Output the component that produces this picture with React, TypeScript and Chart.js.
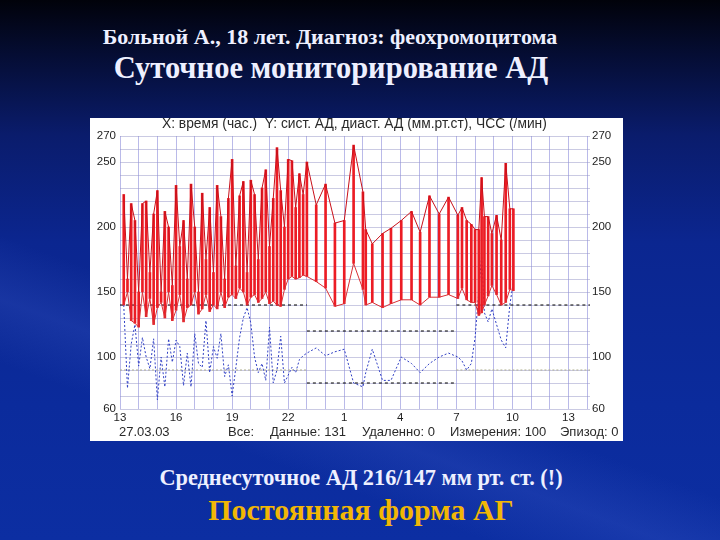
import React, { useEffect, useRef } from "react";
import { Chart, registerables } from "chart.js";

Chart.register(...registerables);

// Measurement times in hours from 13:00 of day 1 (values > 24 belong to the next day)
const measureTimes = [
  13.2, 13.4, 13.6, 13.8, 14.0, 14.2, 14.4, 14.6, 14.8, 15.0,
  15.2, 15.4, 15.6, 15.8, 16.0, 16.2, 16.4, 16.6, 16.8, 17.0,
  17.2, 17.4, 17.6, 17.8, 18.0, 18.2, 18.4, 18.6, 18.8, 19.0,
  19.2, 19.4, 19.6, 19.8, 20.0, 20.2, 20.4, 20.6, 20.8, 21.0,
  21.2, 21.4, 21.6, 21.8, 22.0, 22.2, 22.4, 22.6, 22.8, 23.0,
  23.5, 24.0, 24.5, 25.0, 25.5, 26.0, 26.15, 26.5, 27.05, 27.5,
  28.05, 28.6, 29.06, 29.56, 30.08, 30.58, 31.08,
  31.3, 31.55, 31.8, 32.0, 32.2, 32.35, 32.5, 32.7, 32.9, 33.15,
  33.4, 33.64, 33.86, 34.05,
];

const systolic = [
  225, 160, 218, 205, 150, 218, 220, 165, 210, 228,
  150, 212, 200, 155, 232, 185, 205, 160, 233, 200,
  150, 226, 175, 215, 165, 232, 208, 160, 222, 252,
  170, 224, 235, 165, 236, 225, 175, 230, 244, 185,
  222, 261, 228, 200, 252, 251, 215, 241, 225, 250,
  217, 233, 203, 205, 263, 227, 198, 187, 195, 199,
  205, 212, 196, 224, 210, 223, 209,
  215, 205, 202, 198, 198, 238, 208, 208, 195, 209,
  190, 249, 214, 214,
];

const diastolic = [
  140, 150, 128, 126, 123, 150, 131, 145, 125, 138,
  142, 130, 150, 128, 136, 148, 127, 138, 140, 150,
  133, 137, 148, 135, 140, 137, 150, 138, 146, 148,
  145, 153, 150, 140, 146, 148, 142, 145, 150, 141,
  143, 140, 139, 152, 160, 162, 160, 161, 163, 162,
  158, 153, 139, 141, 172, 152, 140, 142, 138, 141,
  144, 144, 140, 146, 146, 148, 145,
  153, 144, 142, 142, 132, 134, 140, 147, 155, 148,
  140, 142, 152, 151,
];

const heartRate = [
  140, 76, 110, 125, 93, 115, 100, 91, 114, 67,
  100, 77, 114, 96, 113, 108, 78, 103, 77, 118,
  95, 92, 128, 88, 108, 99, 118, 85, 94, 70,
  92, 115, 130, 138, 126, 100, 88, 95, 82, 123,
  80, 90, 116, 80, 86, 92, 88, 98, 101, 103,
  107, 101, 104, 106, 80, 77, 88, 106, 82, 82,
  100, 95, 88, 95, 100, 103, 100,
  97, 90, 95, 115, 150, 178, 134, 127, 137, 125,
  113, 107, 140, 158,
];

// Axes
const xMin = 13;
const xMax = 38.15;
const xGridHours = [13, 14, 15, 16, 17, 18, 19, 20, 21, 22, 23, 24, 25, 26, 27, 28, 29, 30, 31, 32, 33, 34, 35, 36, 37, 38];
const xLabelHours = [13, 16, 19, 22, 25, 28, 31, 34, 37];
const yMin = 60;
const yMax = 270;
const yGridValues = [60, 70, 80, 90, 100, 110, 120, 130, 140, 150, 160, 170, 180, 190, 200, 210, 220, 230, 240, 250, 260, 270];
const yLabelValues = [60, 100, 150, 200, 250, 270];

// Day / night threshold levels
const nightStart = 23;
const nightEnd = 31;
const sysDayLimit = 140;
const sysNightLimit = 120;
const diaDayLimit = 90;
const diaNightLimit = 80;

const chartCaption = "X: время (час.)  Y: сист. АД, диаст. АД (мм.рт.ст), ЧСС (/мин)";
const footerItems = [
  { text: "27.03.03", left: 29 },
  { text: "Все:", left: 138 },
  { text: "Данные: 131", left: 180 },
  { text: "Удаленно: 0", left: 272 },
  { text: "Измерения: 100", left: 360 },
  { text: "Эпизод: 0", left: 470 },
];

const tickFont = { family: "'Liberation Sans', Arial, sans-serif", size: 11.5 };

export default function App() {
  const canvasRef = useRef<HTMLCanvasElement>(null);

  useEffect(() => {
    const canvas = canvasRef.current;
    if (!canvas) return;
    const pts = (vals: number[]) => measureTimes.map((t, i) => ({ x: t, y: vals[i] }));
    const seg = (a: number, b: number, v: number) => [
      { x: a, y: v },
      { x: b, y: v },
    ];
    const thresh = (data: any, color: string, dash: number[]) => ({
      type: "line" as const,
      data,
      borderColor: color,
      borderWidth: 1,
      borderDash: dash,
      pointRadius: 0,
      order: 10,
    });

    const chart = new Chart(canvas, {
      type: "line",
      data: {
        datasets: [
          {
            type: "line",
            label: "сист. АД",
            data: pts(systolic),
            borderColor: "#c8101a",
            borderWidth: 1,
            pointRadius: 0,
            tension: 0,
            order: 1,
          },
          {
            type: "line",
            label: "диаст. АД",
            data: pts(diastolic),
            borderColor: "#d83036",
            borderWidth: 1,
            pointRadius: 0,
            tension: 0,
            order: 2,
          },
          {
            type: "bar",
            label: "АД",
            data: measureTimes.map((t, i) => ({ x: t, y: [diastolic[i], systolic[i]] })) as any,
            backgroundColor: "#ec1c24",
            barThickness: 2,
            grouped: false,
            order: 3,
          } as any,
          {
            type: "line",
            label: "ЧСС",
            data: pts(heartRate),
            borderColor: "#2f3fc4",
            borderWidth: 1,
            borderDash: [2, 2],
            pointRadius: 0,
            tension: 0,
            order: 4,
          },
          thresh(seg(xMin, nightStart, sysDayLimit), "#000000", [3, 3]),
          thresh(seg(nightStart, nightEnd, sysNightLimit), "#000000", [3, 3]),
          thresh(seg(nightEnd, xMax, sysDayLimit), "#000000", [3, 3]),
          thresh(seg(xMin, nightStart, diaDayLimit), "#b0b090", [2, 2]),
          thresh(seg(nightStart, nightEnd, diaNightLimit), "#000000", [3, 3]),
          thresh(seg(nightEnd, xMax, diaDayLimit), "#b0b090", [2, 2]),
        ] as any,
      },
      options: {
        animation: false,
        responsive: false,
        maintainAspectRatio: false,
        layout: { padding: { top: 18, left: 0, right: 0, bottom: 0 } },
        plugins: { legend: { display: false }, tooltip: { enabled: false }, title: { display: false } },
        scales: {
          x: {
            type: "linear",
            min: xMin,
            max: xMax,
            offset: false,
            afterBuildTicks: (s: any) => {
              s.ticks = xGridHours.map((v) => ({ value: v }));
            },
            afterFit: (s: any) => {
              s.height = 32;
            },
            ticks: {
              autoSkip: false,
              maxRotation: 0,
              padding: 2,
              color: "#1e1e1e",
              font: tickFont,
              callback: (v: any) => (xLabelHours.includes(Number(v)) ? String(Number(v) % 24) : ""),
            },
            grid: { color: "rgba(130,130,215,0.55)", lineWidth: 1, drawTicks: false, offset: false },
            border: { display: false },
          },
          y: {
            type: "linear",
            position: "left",
            min: yMin,
            max: yMax,
            afterBuildTicks: (s: any) => {
              s.ticks = yGridValues.map((v) => ({ value: v }));
            },
            afterFit: (s: any) => {
              s.width = 30;
            },
            ticks: {
              autoSkip: false,
              padding: 4,
              color: "#1e1e1e",
              font: tickFont,
              callback: (v: any) => (yLabelValues.includes(Number(v)) ? String(v) : ""),
            },
            grid: { color: "rgba(150,150,200,0.5)", lineWidth: 1, drawTicks: false },
            border: { display: false },
          },
          y2: {
            type: "linear",
            position: "right",
            min: yMin,
            max: yMax,
            afterBuildTicks: (s: any) => {
              s.ticks = yLabelValues.map((v) => ({ value: v }));
            },
            afterFit: (s: any) => {
              s.width = 33;
            },
            ticks: {
              autoSkip: false,
              padding: 2,
              color: "#1e1e1e",
              font: tickFont,
            },
            grid: { drawOnChartArea: false, drawTicks: false },
            border: { display: false },
          },
        },
      } as any,
    });
    return () => chart.destroy();
  }, []);

  const serif = "'Liberation Serif', 'Times New Roman', serif";
  const sans = "'Liberation Sans', Arial, sans-serif";
  const textStyle = (centerX: number, top: number, size: number, color: string): React.CSSProperties => ({
    position: "absolute",
    left: centerX - 330,
    width: 660,
    top,
    textAlign: "center",
    fontFamily: serif,
    fontWeight: "bold",
    fontSize: size,
    lineHeight: `${size + 4}px`,
    color,
    whiteSpace: "nowrap",
  });

  return (
    <div
      style={{
        position: "fixed",
        left: 0,
        top: 0,
        width: 720,
        height: 540,
        overflow: "hidden",
        background:
          "linear-gradient(200deg, rgba(0,0,0,0) 62%, rgba(70,100,210,0.22) 70%, rgba(0,0,0,0) 78%), linear-gradient(180deg, #01020a 0%, #050d33 10%, #0a1c6c 25%, #0b2690 45%, #0b2b9c 75%, #0c2ea2 100%)",
      }}
    >
      <div style={textStyle(330, 24, 22, "#eef0ff")}>Больной А., 18 лет. Диагноз: феохромоцитома</div>
      <div style={textStyle(331, 51, 30.5, "#eef0ff")}>Суточное мониторирование АД</div>

      <div
        style={{
          position: "absolute",
          left: 90,
          top: 118,
          width: 533,
          height: 323,
          background: "#ffffff",
          overflow: "hidden",
        }}
      >
        <canvas ref={canvasRef} width={533} height={323} style={{ position: "absolute", left: 0, top: 0 }} />
        <div
          style={{
            position: "absolute",
            left: 72,
            top: -1,
            fontFamily: sans,
            fontSize: 13.8,
            lineHeight: "14px",
            color: "#2a2a2a",
            whiteSpace: "pre",
          }}
        >
          {chartCaption}
        </div>
        {footerItems.map((f) => (
          <div
            key={f.text}
            style={{
              position: "absolute",
              left: f.left,
              top: 307,
              fontFamily: sans,
              fontSize: 13,
              lineHeight: "14px",
              color: "#2a2a2a",
              whiteSpace: "nowrap",
            }}
          >
            {f.text}
          </div>
        ))}
      </div>

      <div style={textStyle(361, 465, 22.3, "#eef0ff")}>Среднесуточное АД 216/147 мм рт. ст. (!)</div>
      <div style={textStyle(361, 493, 30, "#f2b705")}>Постоянная форма АГ</div>
    </div>
  );
}
